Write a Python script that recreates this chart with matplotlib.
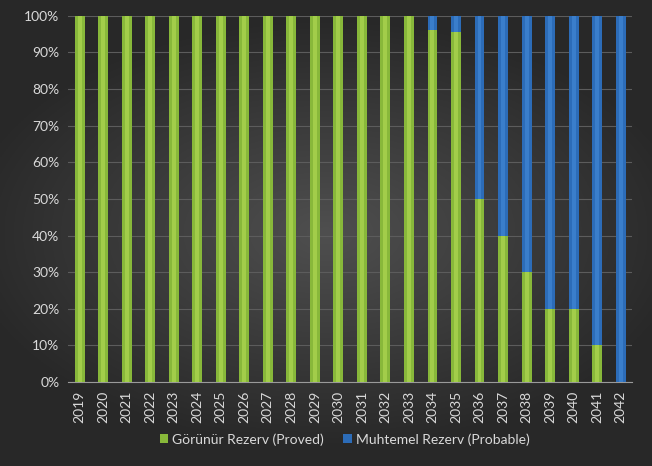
import numpy as np
import matplotlib.pyplot as plt
from matplotlib.ticker import PercentFormatter

plt.rcParams['font.family'] = ['Lato', 'DejaVu Sans']

years = [str(y) for y in range(2019, 2043)]
proved = [100, 100, 100, 100, 100, 100, 100, 100, 100, 100, 100, 100, 100, 100, 100,
          96, 95.5, 50, 40, 30, 20, 20, 10, 0]
probable = [100 - p for p in proved]

green = '#88b83a'
blue = '#2c6cb8'

fig = plt.figure(figsize=(6.52, 4.66), dpi=100)

# dark radial background
bg = fig.add_axes([0, 0, 1, 1], zorder=0)
yy, xx = np.mgrid[-1:1:300j, -1:1:400j]
r = np.sqrt((xx * 0.9) ** 2 + (yy * 1.1) ** 2)
shade = np.clip(0.31 - 0.15 * r, 0.16, 0.31)
bg.imshow(np.dstack([shade, shade, shade]), aspect='auto', extent=[0, 1, 0, 1])
bg.axis('off')

ax = fig.add_axes([0.104, 0.18, 0.866, 0.786], zorder=1)
ax.patch.set_alpha(0)
x = np.arange(len(years))
w = 0.42
ax.bar(x, proved, w, color=green, linewidth=0,
       label='Görünür Rezerv (Proved)', zorder=3)
ax.bar(x, probable, w, bottom=proved, color=blue, linewidth=0,
       label='Muhtemel Rezerv (Probable)', zorder=3)
# lighter stripe down each bar
ax.bar(x, proved, w * 0.4, color='#a2cd4a', linewidth=0, zorder=4)
ax.bar(x, probable, w * 0.4, bottom=proved, color='#3a7ecb', linewidth=0, zorder=4)

ax.set_xlim(-0.5, len(years) - 0.5)
ax.set_ylim(0, 100)
ax.set_yticks(range(0, 101, 10))
ax.yaxis.set_major_formatter(PercentFormatter(decimals=0))
ax.set_xticks(x)
ax.set_xticklabels(years, rotation=90)
ax.tick_params(colors='#d9d9d9', labelsize=10, length=0, pad=6)
ax.grid(axis='y', color='#5c5c5c', linewidth=0.8, zorder=0)
for s in ['top', 'right', 'left']:
    ax.spines[s].set_visible(False)
ax.spines['bottom'].set_color('#9a9a9a')

leg = ax.legend(loc='upper center', bbox_to_anchor=(0.49, -0.105), ncol=2,
                frameon=False, fontsize=10, handlelength=0.6, handleheight=0.6,
                handletextpad=0.3, columnspacing=1.4)
for t in leg.get_texts():
    t.set_color('#d9d9d9')

fig.savefig('out.png', dpi=100)
